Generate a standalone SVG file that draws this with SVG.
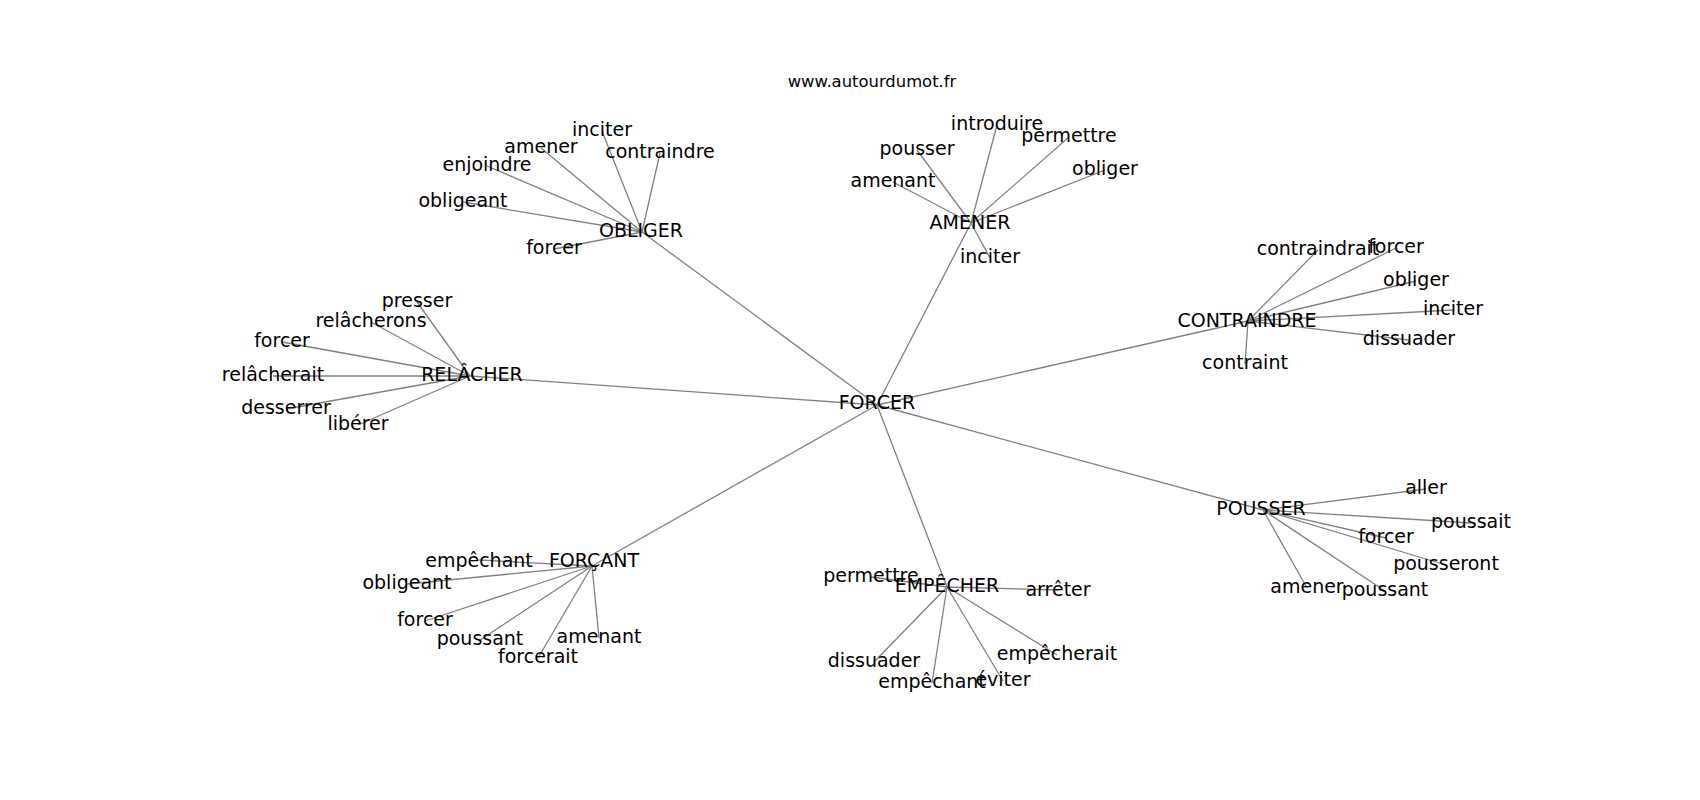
<svg xmlns="http://www.w3.org/2000/svg" width="1700" height="800" viewBox="0 0 1700 800">
<style>
text{font-family:"DejaVu Sans","Liberation Sans",sans-serif;font-size:19px;fill:#000;text-anchor:middle}
.t{font-size:16.4px}
#edges line{stroke:#808080;stroke-width:1.3}
</style>
<rect width="1700" height="800" fill="#fff"/>
<text class="t" x="872" y="87">www.autourdumot.fr</text>
<g id="edges">
<line x1="877" y1="405" x2="642" y2="232"/>
<line x1="877" y1="405" x2="971" y2="223"/>
<line x1="877" y1="405" x2="1248" y2="321"/>
<line x1="877" y1="405" x2="470" y2="376"/>
<line x1="877" y1="405" x2="1263" y2="510"/>
<line x1="877" y1="405" x2="592" y2="566"/>
<line x1="877" y1="405" x2="947" y2="587"/>
<line x1="642" y1="232" x2="602" y2="131"/>
<line x1="642" y1="232" x2="541" y2="148"/>
<line x1="642" y1="232" x2="660" y2="153"/>
<line x1="642" y1="232" x2="487" y2="166"/>
<line x1="642" y1="232" x2="463" y2="202"/>
<line x1="642" y1="232" x2="554" y2="249"/>
<line x1="971" y1="223" x2="997" y2="125"/>
<line x1="971" y1="223" x2="1069" y2="137"/>
<line x1="971" y1="223" x2="917" y2="150"/>
<line x1="971" y1="223" x2="893" y2="182"/>
<line x1="971" y1="223" x2="1105" y2="170"/>
<line x1="971" y1="223" x2="990" y2="258"/>
<line x1="1248" y1="321" x2="1318" y2="250"/>
<line x1="1248" y1="321" x2="1396" y2="248"/>
<line x1="1248" y1="321" x2="1416" y2="281"/>
<line x1="1248" y1="321" x2="1453" y2="310"/>
<line x1="1248" y1="321" x2="1409" y2="340"/>
<line x1="1248" y1="321" x2="1245" y2="364"/>
<line x1="470" y1="376" x2="417" y2="302"/>
<line x1="470" y1="376" x2="371" y2="322"/>
<line x1="470" y1="376" x2="282" y2="342"/>
<line x1="470" y1="376" x2="273" y2="376"/>
<line x1="470" y1="376" x2="286" y2="409"/>
<line x1="470" y1="376" x2="358" y2="425"/>
<line x1="1263" y1="510" x2="1426" y2="489"/>
<line x1="1263" y1="510" x2="1471" y2="523"/>
<line x1="1263" y1="510" x2="1386" y2="538"/>
<line x1="1263" y1="510" x2="1446" y2="565"/>
<line x1="1263" y1="510" x2="1307" y2="588"/>
<line x1="1263" y1="510" x2="1385" y2="591"/>
<line x1="592" y1="566" x2="479" y2="560"/>
<line x1="592" y1="566" x2="407" y2="584"/>
<line x1="592" y1="566" x2="425" y2="621"/>
<line x1="592" y1="566" x2="480" y2="640"/>
<line x1="592" y1="566" x2="599" y2="638"/>
<line x1="592" y1="566" x2="538" y2="658"/>
<line x1="947" y1="587" x2="871" y2="577"/>
<line x1="947" y1="587" x2="1058" y2="590"/>
<line x1="947" y1="587" x2="874" y2="662"/>
<line x1="947" y1="587" x2="932" y2="683"/>
<line x1="947" y1="587" x2="1003" y2="681"/>
<line x1="947" y1="587" x2="1057" y2="655"/>
</g>
<g id="n-forcer"><text x="877" y="409">FORCER</text></g>
<g id="n-obliger"><text x="641" y="237">OBLIGER</text></g>
<g id="n-amener"><text x="970" y="229">AMENER</text></g>
<g id="n-contraindre"><text x="1247" y="327">CONTRAINDRE</text></g>
<g id="n-relacher"><text x="472" y="381">RELÂCHER</text></g>
<g id="n-pousser"><text x="1261" y="515">POUSSER</text></g>
<g id="n-forcant"><text x="594" y="567">FORÇANT</text></g>
<g id="n-empecher"><text x="947" y="592">EMPÊCHER</text></g>
<g id="n-obliger-inciter"><text x="602" y="136">inciter</text></g>
<g id="n-obliger-amener"><text x="541" y="153">amener</text></g>
<g id="n-obliger-contraindre"><text x="660" y="158">contraindre</text></g>
<g id="n-obliger-enjoindre"><text x="487" y="171">enjoindre</text></g>
<g id="n-obliger-obligeant"><text x="463" y="207">obligeant</text></g>
<g id="n-obliger-forcer"><text x="554" y="254">forcer</text></g>
<g id="n-amener-introduire"><text x="997" y="130">introduire</text></g>
<g id="n-amener-permettre"><text x="1069" y="142">permettre</text></g>
<g id="n-amener-pousser"><text x="917" y="155">pousser</text></g>
<g id="n-amener-amenant"><text x="893" y="187">amenant</text></g>
<g id="n-amener-obliger"><text x="1105" y="175">obliger</text></g>
<g id="n-amener-inciter"><text x="990" y="263">inciter</text></g>
<g id="n-contraindre-contraindrait"><text x="1318" y="255">contraindrait</text></g>
<g id="n-contraindre-forcer"><text x="1396" y="253">forcer</text></g>
<g id="n-contraindre-obliger"><text x="1416" y="286">obliger</text></g>
<g id="n-contraindre-inciter"><text x="1453" y="315">inciter</text></g>
<g id="n-contraindre-dissuader"><text x="1409" y="345">dissuader</text></g>
<g id="n-contraindre-contraint"><text x="1245" y="369">contraint</text></g>
<g id="n-relacher-presser"><text x="417" y="307">presser</text></g>
<g id="n-relacher-relacherons"><text x="371" y="327">relâcherons</text></g>
<g id="n-relacher-forcer"><text x="282" y="347">forcer</text></g>
<g id="n-relacher-relacherait"><text x="273" y="381">relâcherait</text></g>
<g id="n-relacher-desserrer"><text x="286" y="414">desserrer</text></g>
<g id="n-relacher-liberer"><text x="358" y="430">libérer</text></g>
<g id="n-pousser-aller"><text x="1426" y="494">aller</text></g>
<g id="n-pousser-poussait"><text x="1471" y="528">poussait</text></g>
<g id="n-pousser-forcer"><text x="1386" y="543">forcer</text></g>
<g id="n-pousser-pousseront"><text x="1446" y="570">pousseront</text></g>
<g id="n-pousser-amener"><text x="1307" y="593">amener</text></g>
<g id="n-pousser-poussant"><text x="1385" y="596">poussant</text></g>
<g id="n-forcant-empechant"><text x="479" y="567">empêchant</text></g>
<g id="n-forcant-obligeant"><text x="407" y="589">obligeant</text></g>
<g id="n-forcant-forcer"><text x="425" y="626">forcer</text></g>
<g id="n-forcant-poussant"><text x="480" y="645">poussant</text></g>
<g id="n-forcant-amenant"><text x="599" y="643">amenant</text></g>
<g id="n-forcant-forcerait"><text x="538" y="663">forcerait</text></g>
<g id="n-empecher-permettre"><text x="871" y="582">permettre</text></g>
<g id="n-empecher-arreter"><text x="1058" y="596">arrêter</text></g>
<g id="n-empecher-dissuader"><text x="874" y="667">dissuader</text></g>
<g id="n-empecher-empechant"><text x="932" y="688">empêchant</text></g>
<g id="n-empecher-eviter"><text x="1003" y="686">éviter</text></g>
<g id="n-empecher-empecherait"><text x="1057" y="660">empêcherait</text></g>
</svg>
